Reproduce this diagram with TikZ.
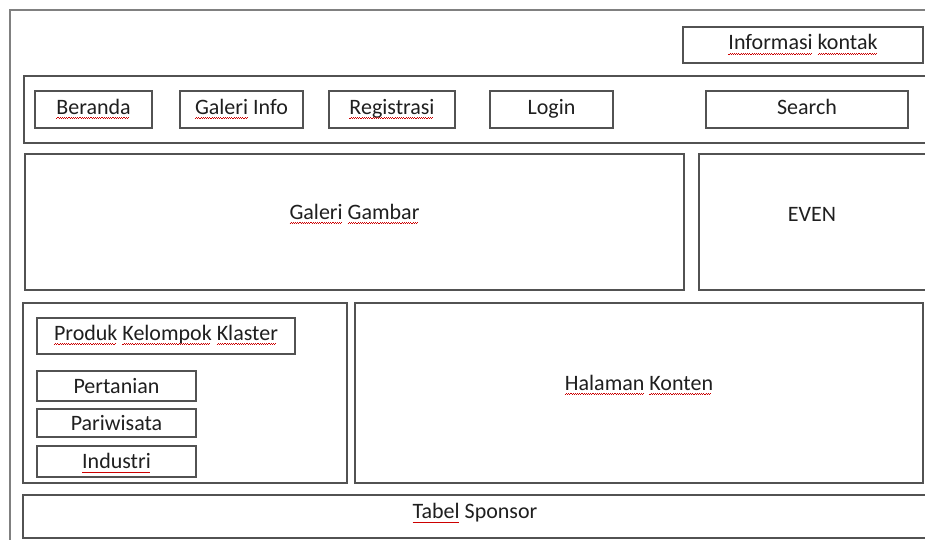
\documentclass[tikz,border=0pt]{standalone}
\usepackage{fontspec}
\setmainfont{Carlito}
\usetikzlibrary{fit}
\newsavebox\splbox
\newcommand\wavebit{\hbox{\rule{1.1pt}{0.7pt}\raisebox{0.8pt}{\rule{1.1pt}{0.7pt}}}}
\newcommand\spl[1]{\sbox\splbox{#1}\leavevmode\rlap{\usebox\splbox}\raisebox{-4.5pt}[0pt][0pt]{\textcolor{red!80!black}{\hbox to \wd\splbox{\leaders\wavebit\hfill}}}}
\tikzset{
  frame/.style={draw=black!50, line width=2.5pt},
  box/.style={draw=black!68, line width=1.5pt, inner sep=0pt, fill=none},
  lbl/.style={text=black!88, font=\fontsize{22}{26}\selectfont, inner sep=0pt,
              text height=15pt, text depth=1pt}
}
\begin{document}
\begin{tikzpicture}[x=1pt,y=-1pt]
\useasboundingbox[fill=white] (0,0) rectangle (925,540);
% outer frame (open to the right and bottom)
\coordinate (fbl) at (10,548);
\coordinate (ftl) at (10,10);
\coordinate (ftr) at (935,10);
\draw[frame] (fbl) -- (ftl) -- (ftr);
% header
\node[box, fit={(683,27) (923,63)}] (info) {};
\node[lbl] at ([yshift=2pt]info.center) {\spl{Informasi} \spl{kontak}};
% navigation bar
\node[box, fit={(24,76) (935,143)}] (nav) {};
\node[box, fit={(35,91) (152,128)}] (beranda) {};
\node[box, fit={(180,91) (303,128)}] (galinfo) {};
\node[box, fit={(329,91) (455,128)}] (regis) {};
\node[box, fit={(490,91) (613,128)}] (login) {};
\node[box, fit={(706,91) (908,128)}] (search) {};
\node[lbl] at ([yshift=2pt]beranda.center) {\spl{Beranda}};
\node[lbl] at ([yshift=2pt]galinfo.center) {\spl{Galeri} Info};
\node[lbl] at ([yshift=2pt]regis.center) {\spl{Registrasi}};
\node[lbl] at ([yshift=2pt]login.center) {Login};
\node[lbl] at ([yshift=2pt]search.center) {Search};
% gallery and events
\node[box, fit={(25,154) (684,290)}] (galeri) {};
\node[lbl] at ([yshift=10pt]galeri.center) {\spl{Galeri} \spl{Gambar}};
\node[box, fit={(699,154) (935,290)}] (even) {};
\node[lbl] at ([xshift=-5pt,yshift=8pt]even.center) {EVEN};
% product cluster panel
\node[box, fit={(23,303) (347,483)}] (panel) {};
\node[box, fit={(37,318) (295,354)}] (produk) {};
\node[lbl] at ([yshift=3pt]produk.center) {\spl{Produk} \spl{Kelompok} \spl{Klaster}};
\node[box, fit={(37,371) (196,401)}] (pertanian) {};
\node[box, fit={(37,409) (196,437)}] (pariwisata) {};
\node[box, fit={(37,446) (196,477)}] (industri) {};
\node[lbl] at (pertanian.center) {Pertanian};
\node[lbl] at (pariwisata.center) {Pariwisata};
\node[lbl] at (industri.center) {\spl{Industri}};
% content
\node[box, fit={(355,303) (923,483)}] (konten) {};
\node[lbl] at ([yshift=10pt]konten.center) {\spl{Halaman} \spl{Konten}};
% sponsor
\node[box, fit={(23,495) (935,538)}] (sponsor) {};
\node[lbl] at ([xshift=-4pt,yshift=5pt]sponsor.center) {\spl{Tabel} Sponsor};
\end{tikzpicture}
\end{document}
